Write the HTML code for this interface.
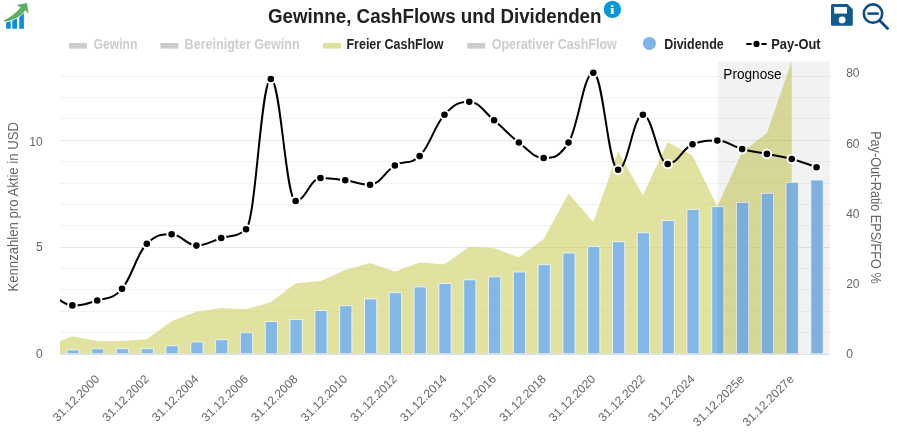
<!DOCTYPE html>
<html lang="de"><head><meta charset="utf-8"><title>Gewinne, CashFlows und Dividenden</title>
<style>
html,body{margin:0;padding:0;background:#fff;}
body{width:897px;height:444px;overflow:hidden;font-family:"Liberation Sans",sans-serif;}
svg{display:block;}
text{font-family:"Liberation Sans",sans-serif;}
.ax{font-size:12px;fill:#666;}
.xl{font-size:12px;fill:#666;}
.at{font-size:14px;fill:#666;}
.lg{font-size:14px;font-weight:bold;fill:#222;}
.lgo{font-size:14px;font-weight:bold;fill:#ccc;}
</style></head><body>
<svg width="897" height="444" viewBox="0 0 897 444">
<defs><clipPath id="pc"><rect x="60" y="61.5" width="770" height="292.5"/></clipPath></defs>
<rect width="897" height="444" fill="#fff"/>
<g id="logo">
<path d="M6.1 28.7V22.4L10.7 21.3V28.7Z" fill="#0b8fdc"/>
<path d="M12.3 28.7V20.6L17 18.6V28.7Z" fill="#0b8fdc"/>
<path d="M19.2 28.7V17.2L23.9 13V28.7Z" fill="#0b8fdc"/>
<path d="M3.7 20.5C10 17.3 16 13.2 20.6 7.5L16.7 5L27 3.1L28.7 13.8L25.3 10.2C20.5 17.2 12 21 4.4 21.4Z" fill="#5fae64" stroke="#fff" stroke-width="0.7" paint-order="stroke"/>
</g>
<text x="268" y="22.8" font-size="19.5" font-weight="bold" fill="#212121" textLength="333.5" lengthAdjust="spacingAndGlyphs">Gewinne, CashFlows und Dividenden</text>
<circle cx="612.4" cy="9.4" r="8.6" fill="#0996dc"/><text transform="translate(612.2,13.8) scale(1.35,1)" style="font-family:Liberation Serif,serif;font-size:13px;font-weight:bold" fill="#fff" text-anchor="middle">i</text>
<g id="save"><path d="M832.6 3.9H847.5L852.8 9.2V24.2Q852.8 25.8 851.2 25.8H832.6Q831 25.8 831 24.2V5.5Q831 3.9 832.6 3.9Z" fill="#0f5a8f"/>
<rect x="834.2" y="7" width="12.8" height="6.6" fill="#fff"/><circle cx="842.1" cy="19.9" r="3.4" fill="#fff"/></g>
<g id="zoomout" fill="none" stroke="#0c4a8a" stroke-linecap="round"><circle cx="873" cy="13.6" r="9.2" stroke-width="2.6"/>
<path d="M867.4 13.6H878.8" stroke-width="2.5" stroke-linecap="butt"/><path d="M880.1 21L887.6 28.6" stroke-width="2.8"/></g>
<rect x="69.0" y="43" width="18" height="5.6" fill="#ccc"/><text class="lgo" x="93.4" y="48.9" textLength="44.1" lengthAdjust="spacingAndGlyphs">Gewinn</text>
<rect x="160.4" y="43" width="18" height="5.6" fill="#ccc"/><text class="lgo" x="184.6" y="48.9" textLength="115.1" lengthAdjust="spacingAndGlyphs">Bereinigter Gewinn</text>
<rect x="322.9" y="43" width="18" height="5.6" fill="#e0e09c"/><text class="lg" x="346.5" y="48.9" textLength="97.0" lengthAdjust="spacingAndGlyphs">Freier CashFlow</text>
<rect x="467.3" y="43" width="18" height="5.6" fill="#ccc"/><text class="lgo" x="491.7" y="48.9" textLength="125.1" lengthAdjust="spacingAndGlyphs">Operativer CashFlow</text>
<circle cx="649.4" cy="43.4" r="6.5" fill="#7cb5ec"/><text class="lg" x="664.2" y="48.9" textLength="59.6" lengthAdjust="spacingAndGlyphs">Dividende</text>
<path d="M746.3 43.9H751.6M761.4 43.9H766.7" stroke="#000" stroke-width="2" fill="none"/><circle cx="756.5" cy="43.9" r="3.1" fill="#000"/><text class="lg" x="771.3" y="48.9" textLength="49.3" lengthAdjust="spacingAndGlyphs">Pay-Out</text>
<g id="grid" shape-rendering="crispEdges"><path d="M60 332.5H830" stroke="#f3f3f3" stroke-width="1"/><path d="M60 311.5H830" stroke="#f3f3f3" stroke-width="1"/><path d="M60 289.5H830" stroke="#f3f3f3" stroke-width="1"/><path d="M60 268.5H830" stroke="#f3f3f3" stroke-width="1"/><path d="M60 247.5H830" stroke="#e6e6e6" stroke-width="1"/><path d="M60 225.5H830" stroke="#f3f3f3" stroke-width="1"/><path d="M60 204.5H830" stroke="#f3f3f3" stroke-width="1"/><path d="M60 183.5H830" stroke="#f3f3f3" stroke-width="1"/><path d="M60 161.5H830" stroke="#f3f3f3" stroke-width="1"/><path d="M60 140.5H830" stroke="#e6e6e6" stroke-width="1"/><path d="M60 118.5H830" stroke="#f3f3f3" stroke-width="1"/><path d="M60 97.5H830" stroke="#f3f3f3" stroke-width="1"/><path d="M60 76.5H830" stroke="#f3f3f3" stroke-width="1"/></g>
<g clip-path="url(#pc)"><path d="M 47.60 353.80 L 47.60 346.30 L 72.40 336.30 L 97.21 341.00 L 122.01 340.90 L 146.81 339.20 L 171.62 320.90 L 196.43 311.80 L 221.23 308.00 L 246.03 309.20 L 270.84 302.10 L 295.64 283.20 L 320.45 280.90 L 345.25 270.10 L 370.06 262.90 L 394.87 271.60 L 419.67 262.50 L 444.48 264.30 L 469.28 246.70 L 494.09 248.20 L 518.89 257.20 L 543.70 239.10 L 568.50 193.60 L 593.30 222.00 L 618.11 151.60 L 642.91 195.20 L 667.72 141.90 L 692.52 155.60 L 717.33 206.60 L 742.13 152.00 L 766.94 133.30 L 791.75 61.00 L 791.75 353.80 Z" fill="rgb(203,203,85)" fill-opacity="0.56"/></g>
<g id="bars"><rect x="66.8" y="349.9" width="12.2" height="3.9" fill="#7cb5ec" fill-opacity="0.93" stroke="#fff" stroke-opacity="0.7" stroke-width="1"/><rect x="91.6" y="348.7" width="12.2" height="5.1" fill="#7cb5ec" fill-opacity="0.93" stroke="#fff" stroke-opacity="0.7" stroke-width="1"/><rect x="116.4" y="348.7" width="12.2" height="5.1" fill="#7cb5ec" fill-opacity="0.93" stroke="#fff" stroke-opacity="0.7" stroke-width="1"/><rect x="141.2" y="348.7" width="12.2" height="5.1" fill="#7cb5ec" fill-opacity="0.93" stroke="#fff" stroke-opacity="0.7" stroke-width="1"/><rect x="166.0" y="345.7" width="12.2" height="8.1" fill="#7cb5ec" fill-opacity="0.93" stroke="#fff" stroke-opacity="0.7" stroke-width="1"/><rect x="190.8" y="342.0" width="12.2" height="11.8" fill="#7cb5ec" fill-opacity="0.93" stroke="#fff" stroke-opacity="0.7" stroke-width="1"/><rect x="215.6" y="339.7" width="12.2" height="14.1" fill="#7cb5ec" fill-opacity="0.93" stroke="#fff" stroke-opacity="0.7" stroke-width="1"/><rect x="240.4" y="332.7" width="12.2" height="21.1" fill="#7cb5ec" fill-opacity="0.93" stroke="#fff" stroke-opacity="0.7" stroke-width="1"/><rect x="265.2" y="321.5" width="12.2" height="32.3" fill="#7cb5ec" fill-opacity="0.93" stroke="#fff" stroke-opacity="0.7" stroke-width="1"/><rect x="290.0" y="319.5" width="12.2" height="34.3" fill="#7cb5ec" fill-opacity="0.93" stroke="#fff" stroke-opacity="0.7" stroke-width="1"/><rect x="314.9" y="310.5" width="12.2" height="43.3" fill="#7cb5ec" fill-opacity="0.93" stroke="#fff" stroke-opacity="0.7" stroke-width="1"/><rect x="339.7" y="305.7" width="12.2" height="48.1" fill="#7cb5ec" fill-opacity="0.93" stroke="#fff" stroke-opacity="0.7" stroke-width="1"/><rect x="364.5" y="299.0" width="12.2" height="54.8" fill="#7cb5ec" fill-opacity="0.93" stroke="#fff" stroke-opacity="0.7" stroke-width="1"/><rect x="389.3" y="292.6" width="12.2" height="61.2" fill="#7cb5ec" fill-opacity="0.93" stroke="#fff" stroke-opacity="0.7" stroke-width="1"/><rect x="414.1" y="286.9" width="12.2" height="66.9" fill="#7cb5ec" fill-opacity="0.93" stroke="#fff" stroke-opacity="0.7" stroke-width="1"/><rect x="438.9" y="283.5" width="12.2" height="70.3" fill="#7cb5ec" fill-opacity="0.93" stroke="#fff" stroke-opacity="0.7" stroke-width="1"/><rect x="463.7" y="279.8" width="12.2" height="74.0" fill="#7cb5ec" fill-opacity="0.93" stroke="#fff" stroke-opacity="0.7" stroke-width="1"/><rect x="488.5" y="276.7" width="12.2" height="77.1" fill="#7cb5ec" fill-opacity="0.93" stroke="#fff" stroke-opacity="0.7" stroke-width="1"/><rect x="513.3" y="272.0" width="12.2" height="81.8" fill="#7cb5ec" fill-opacity="0.93" stroke="#fff" stroke-opacity="0.7" stroke-width="1"/><rect x="538.1" y="264.6" width="12.2" height="89.2" fill="#7cb5ec" fill-opacity="0.93" stroke="#fff" stroke-opacity="0.7" stroke-width="1"/><rect x="562.9" y="253.0" width="12.2" height="100.8" fill="#7cb5ec" fill-opacity="0.93" stroke="#fff" stroke-opacity="0.7" stroke-width="1"/><rect x="587.7" y="246.4" width="12.2" height="107.4" fill="#7cb5ec" fill-opacity="0.93" stroke="#fff" stroke-opacity="0.7" stroke-width="1"/><rect x="612.5" y="241.7" width="12.2" height="112.1" fill="#7cb5ec" fill-opacity="0.93" stroke="#fff" stroke-opacity="0.7" stroke-width="1"/><rect x="637.3" y="232.8" width="12.2" height="121.0" fill="#7cb5ec" fill-opacity="0.93" stroke="#fff" stroke-opacity="0.7" stroke-width="1"/><rect x="662.1" y="220.6" width="12.2" height="133.2" fill="#7cb5ec" fill-opacity="0.93" stroke="#fff" stroke-opacity="0.7" stroke-width="1"/><rect x="686.9" y="209.4" width="12.2" height="144.4" fill="#7cb5ec" fill-opacity="0.93" stroke="#fff" stroke-opacity="0.7" stroke-width="1"/><rect x="711.7" y="206.7" width="12.2" height="147.1" fill="#7cb5ec" fill-opacity="0.93" stroke="#fff" stroke-opacity="0.7" stroke-width="1"/><rect x="736.5" y="202.4" width="12.2" height="151.4" fill="#7cb5ec" fill-opacity="0.93" stroke="#fff" stroke-opacity="0.7" stroke-width="1"/><rect x="761.3" y="193.4" width="12.2" height="160.4" fill="#7cb5ec" fill-opacity="0.93" stroke="#fff" stroke-opacity="0.7" stroke-width="1"/><rect x="786.1" y="182.4" width="12.2" height="171.4" fill="#7cb5ec" fill-opacity="0.93" stroke="#fff" stroke-opacity="0.7" stroke-width="1"/><rect x="810.9" y="180.1" width="12.2" height="173.7" fill="#7cb5ec" fill-opacity="0.93" stroke="#fff" stroke-opacity="0.7" stroke-width="1"/></g>
<rect x="717.6" y="61.5" width="112.2" height="292.3" fill="#000" fill-opacity="0.052"/>
<text x="723.3" y="78.6" font-size="14" fill="#000" textLength="58.3" lengthAdjust="spacingAndGlyphs">Prognose</text>
<path d="M60 354.3H830" stroke="#ccd6eb" stroke-width="1"/>
<g clip-path="url(#pc)"><path d="M 47.60 289.50 C 47.60 289.50 62.48 305.40 72.40 305.40 C 82.32 305.40 87.28 303.82 97.21 300.50 C 107.13 297.18 112.09 300.16 122.01 288.80 C 131.93 277.44 136.89 253.20 146.81 243.70 C 156.74 234.20 161.70 234.20 171.62 234.20 C 181.54 234.20 186.50 245.60 196.43 245.60 C 206.35 245.60 211.31 241.28 221.23 238.00 C 231.15 234.72 236.11 238.00 246.03 229.20 C 255.96 220.40 260.92 79.00 270.84 79.00 C 280.76 79.00 285.72 201.00 295.64 201.00 C 305.57 201.00 310.53 178.00 320.45 178.00 C 330.37 178.00 335.33 178.94 345.25 180.30 C 355.18 181.66 360.14 184.80 370.06 184.80 C 379.98 184.80 384.94 171.24 394.87 165.50 C 404.79 159.76 409.75 165.50 419.67 156.10 C 429.59 146.70 434.55 125.58 444.48 114.70 C 454.40 103.82 459.36 101.70 469.28 101.70 C 479.20 101.70 484.16 112.14 494.09 120.30 C 504.01 128.46 508.97 134.96 518.89 142.50 C 528.81 150.04 533.77 158.00 543.70 158.00 C 553.62 158.00 558.58 158.00 568.50 142.60 C 578.42 127.20 583.38 72.70 593.30 72.70 C 603.23 72.70 608.19 169.70 618.11 169.70 C 628.03 169.70 632.99 114.80 642.91 114.80 C 652.84 114.80 657.80 164.00 667.72 164.00 C 677.64 164.00 682.60 148.10 692.52 144.30 C 702.45 140.50 707.41 140.50 717.33 140.50 C 727.25 140.50 732.21 146.42 742.13 149.10 C 752.06 151.78 757.02 151.92 766.94 153.90 C 776.86 155.88 781.82 156.32 791.75 159.00 C 801.67 161.68 816.55 167.30 816.55 167.30" fill="none" stroke="#000" stroke-width="2" stroke-linejoin="round" stroke-linecap="round"/><circle cx="72.40" cy="305.40" r="4.3" fill="#000" stroke="#fff" stroke-width="2"/><circle cx="97.21" cy="300.50" r="4.3" fill="#000" stroke="#fff" stroke-width="2"/><circle cx="122.01" cy="288.80" r="4.3" fill="#000" stroke="#fff" stroke-width="2"/><circle cx="146.81" cy="243.70" r="4.3" fill="#000" stroke="#fff" stroke-width="2"/><circle cx="171.62" cy="234.20" r="4.3" fill="#000" stroke="#fff" stroke-width="2"/><circle cx="196.43" cy="245.60" r="4.3" fill="#000" stroke="#fff" stroke-width="2"/><circle cx="221.23" cy="238.00" r="4.3" fill="#000" stroke="#fff" stroke-width="2"/><circle cx="246.03" cy="229.20" r="4.3" fill="#000" stroke="#fff" stroke-width="2"/><circle cx="270.84" cy="79.00" r="4.3" fill="#000" stroke="#fff" stroke-width="2"/><circle cx="295.64" cy="201.00" r="4.3" fill="#000" stroke="#fff" stroke-width="2"/><circle cx="320.45" cy="178.00" r="4.3" fill="#000" stroke="#fff" stroke-width="2"/><circle cx="345.25" cy="180.30" r="4.3" fill="#000" stroke="#fff" stroke-width="2"/><circle cx="370.06" cy="184.80" r="4.3" fill="#000" stroke="#fff" stroke-width="2"/><circle cx="394.87" cy="165.50" r="4.3" fill="#000" stroke="#fff" stroke-width="2"/><circle cx="419.67" cy="156.10" r="4.3" fill="#000" stroke="#fff" stroke-width="2"/><circle cx="444.48" cy="114.70" r="4.3" fill="#000" stroke="#fff" stroke-width="2"/><circle cx="469.28" cy="101.70" r="4.3" fill="#000" stroke="#fff" stroke-width="2"/><circle cx="494.09" cy="120.30" r="4.3" fill="#000" stroke="#fff" stroke-width="2"/><circle cx="518.89" cy="142.50" r="4.3" fill="#000" stroke="#fff" stroke-width="2"/><circle cx="543.70" cy="158.00" r="4.3" fill="#000" stroke="#fff" stroke-width="2"/><circle cx="568.50" cy="142.60" r="4.3" fill="#000" stroke="#fff" stroke-width="2"/><circle cx="593.30" cy="72.70" r="4.3" fill="#000" stroke="#fff" stroke-width="2"/><circle cx="618.11" cy="169.70" r="4.3" fill="#000" stroke="#fff" stroke-width="2"/><circle cx="642.91" cy="114.80" r="4.3" fill="#000" stroke="#fff" stroke-width="2"/><circle cx="667.72" cy="164.00" r="4.3" fill="#000" stroke="#fff" stroke-width="2"/><circle cx="692.52" cy="144.30" r="4.3" fill="#000" stroke="#fff" stroke-width="2"/><circle cx="717.33" cy="140.50" r="4.3" fill="#000" stroke="#fff" stroke-width="2"/><circle cx="742.13" cy="149.10" r="4.3" fill="#000" stroke="#fff" stroke-width="2"/><circle cx="766.94" cy="153.90" r="4.3" fill="#000" stroke="#fff" stroke-width="2"/><circle cx="791.75" cy="159.00" r="4.3" fill="#000" stroke="#fff" stroke-width="2"/><circle cx="816.55" cy="167.30" r="4.3" fill="#000" stroke="#fff" stroke-width="2"/></g>
<text class="ax" x="42.6" y="357.9" text-anchor="end">0</text><text class="ax" x="42.6" y="250.8" text-anchor="end">5</text><text class="ax" x="42.6" y="145.8" text-anchor="end">10</text>
<text class="ax" x="846.2" y="357.9">0</text><text class="ax" x="846.2" y="288.0">20</text><text class="ax" x="846.2" y="217.8">40</text><text class="ax" x="846.2" y="147.8">60</text><text class="ax" x="846.2" y="76.9">80</text>
<text class="at" transform="translate(18.2,206.8) rotate(-90)" text-anchor="middle" textLength="169.5" lengthAdjust="spacingAndGlyphs">Kennzahlen pro Aktie in USD</text>
<text class="at" transform="translate(871,207.4) rotate(90)" text-anchor="middle" textLength="152.5" lengthAdjust="spacingAndGlyphs">Pay-Out-Ratio EPS/FFO %</text>
<text class="xl" transform="translate(100.1,379.8) rotate(-45)" text-anchor="end">31.12.2000</text><text class="xl" transform="translate(149.7,379.8) rotate(-45)" text-anchor="end">31.12.2002</text><text class="xl" transform="translate(199.3,379.8) rotate(-45)" text-anchor="end">31.12.2004</text><text class="xl" transform="translate(248.9,379.8) rotate(-45)" text-anchor="end">31.12.2006</text><text class="xl" transform="translate(298.5,379.8) rotate(-45)" text-anchor="end">31.12.2008</text><text class="xl" transform="translate(348.2,379.8) rotate(-45)" text-anchor="end">31.12.2010</text><text class="xl" transform="translate(397.8,379.8) rotate(-45)" text-anchor="end">31.12.2012</text><text class="xl" transform="translate(447.4,379.8) rotate(-45)" text-anchor="end">31.12.2014</text><text class="xl" transform="translate(497.0,379.8) rotate(-45)" text-anchor="end">31.12.2016</text><text class="xl" transform="translate(546.6,379.8) rotate(-45)" text-anchor="end">31.12.2018</text><text class="xl" transform="translate(596.2,379.8) rotate(-45)" text-anchor="end">31.12.2020</text><text class="xl" transform="translate(645.8,379.8) rotate(-45)" text-anchor="end">31.12.2022</text><text class="xl" transform="translate(695.4,379.8) rotate(-45)" text-anchor="end">31.12.2024</text><text class="xl" transform="translate(745.0,379.8) rotate(-45)" text-anchor="end">31.12.2025e</text><text class="xl" transform="translate(794.6,379.8) rotate(-45)" text-anchor="end">31.12.2027e</text>
</svg>
</body></html>
